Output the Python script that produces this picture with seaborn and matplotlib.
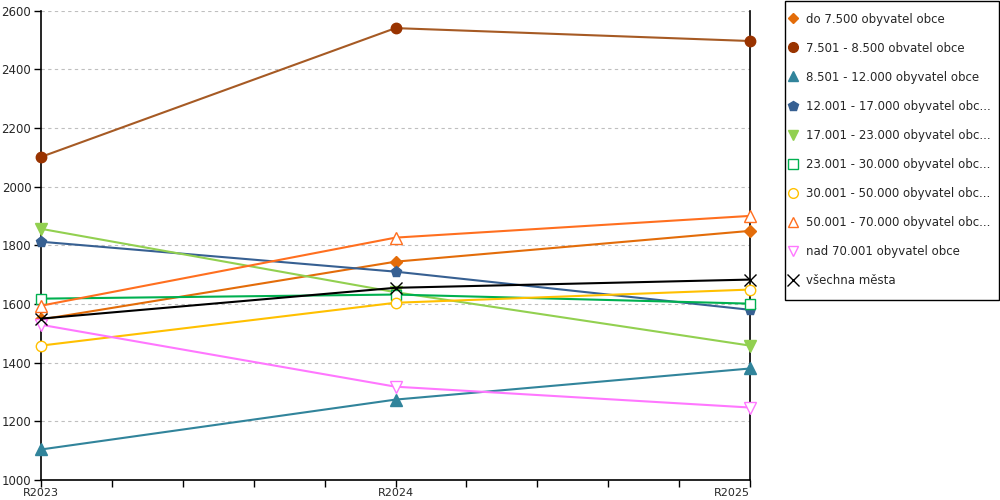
import matplotlib
matplotlib.use("Agg")
import matplotlib.pyplot as plt
from matplotlib.lines import Line2D
from matplotlib.patches import Rectangle
from matplotlib.ticker import MultipleLocator
import seaborn as sns
import pandas as pd

years = ["R2023", "R2024", "R2025"]

labels = [
    "do 7.500 obyvatel obce",
    "7.501 - 8.500 obvatel obce",
    "8.501 - 12.000 obyvatel obce",
    "12.001 - 17.000 obyvatel obc...",
    "17.001 - 23.000 obyvatel obc...",
    "23.001 - 30.000 obyvatel obc...",
    "30.001 - 50.000 obyvatel obc...",
    "50.001 - 70.000 obyvatel obc...",
    "nad 70.001 obyvatel obce",
    "všechna města",
]

do_7500 = [1547, 1744, 1849]
r7501_8500 = [2101, 2540, 2496]
r8501_12000 = [1104, 1274, 1380]
r12001_17000 = [1812, 1710, 1580]
r17001_23000 = [1856, 1640, 1458]
r23001_30000 = [1618, 1632, 1601]
r30001_50000 = [1458, 1604, 1649]
r50001_70000 = [1594, 1826, 1900]
nad_70001 = [1529, 1318, 1247]
vsechna = [1550, 1655, 1683]

series = [do_7500, r7501_8500, r8501_12000, r12001_17000, r17001_23000,
          r23001_30000, r30001_50000, r50001_70000, nad_70001, vsechna]

line_colors = ["#E36C09", "#A65A24", "#31849B", "#376092", "#92D050",
               "#00B050", "#FFC000", "#FF6F1F", "#FF77FF", "#000000"]
marker_colors = ["#E36C09", "#993300", "#31849B", "#376092", "#92D050",
                 "#00B050", "#FFC000", "#FF6F1F", "#FF77FF", "#000000"]
markers = ["D", "o", "^", "p", "v", "s", "o", "^", "v", "x"]
filled = [True, True, True, True, True, False, False, False, False, True]
msizes = [6, 7.5, 8, 8, 8, 7.5, 7.5, 8, 8, 9]

sns.set_style("white")
plt.rcParams["font.family"] = ["DejaVu Sans"]

fig = plt.figure(figsize=(10, 5), dpi=100)
ax = fig.add_axes([0.041, 0.04, 0.709, 0.939])

handles = []
for lab, vals, lc, mc, mk, fl, ms in zip(labels, series, line_colors, marker_colors,
                                         markers, filled, msizes):
    df = pd.DataFrame({"rok": years, "hodnota": vals})
    mfc = mc if fl else "white"
    sns.lineplot(data=df, x="rok", y="hodnota", ax=ax, color=lc, linewidth=1.5,
                 marker=mk, markersize=ms, markerfacecolor=mfc, markeredgecolor=mc,
                 markeredgewidth=1.0, clip_on=False, zorder=3)
    handles.append(Line2D([], [], linestyle="none", marker=mk, markersize=ms - 0.5,
                          markerfacecolor=mfc, markeredgecolor=mc, markeredgewidth=1.0,
                          label=lab))

ax.set_xlim(0, 2)
ax.set_ylim(1000, 2600)
ax.yaxis.set_major_locator(MultipleLocator(200))
ax.xaxis.set_minor_locator(MultipleLocator(0.2))
ax.set_xlabel("")
ax.set_ylabel("")

ax.grid(axis="y", color="#BFBFBF", linestyle=(0, (3, 3)), linewidth=0.8)
ax.grid(axis="x", visible=False)

for side in ["left", "bottom", "right"]:
    ax.spines[side].set_visible(True)
    ax.spines[side].set_color("black")
    ax.spines[side].set_linewidth(1.2)
ax.spines["top"].set_visible(False)

ax.tick_params(axis="both", which="both", direction="out", length=5, width=1,
               color="black", labelsize=8.5, pad=2, left=True, bottom=True)
ax.tick_params(axis="x", which="both", length=5, pad=1, labelsize=8)
for lbl in ax.get_xticklabels():
    if lbl.get_text() == "R2025":
        lbl.set_horizontalalignment("right")

# legend box drawn separately so the padding matches the original
fig.patches.append(Rectangle((0.785, 0.4), 0.214, 0.599, transform=fig.transFigure,
                             fill=False, edgecolor="black", linewidth=1.0))
leg = fig.legend(handles=handles, loc="upper left", bbox_to_anchor=(0.788, 0.975),
                 frameon=False, fontsize=8.5, labelspacing=1.36, handlelength=0.8,
                 handletextpad=0.7, borderpad=0, borderaxespad=0)

fig.savefig("out.png", dpi=100)
